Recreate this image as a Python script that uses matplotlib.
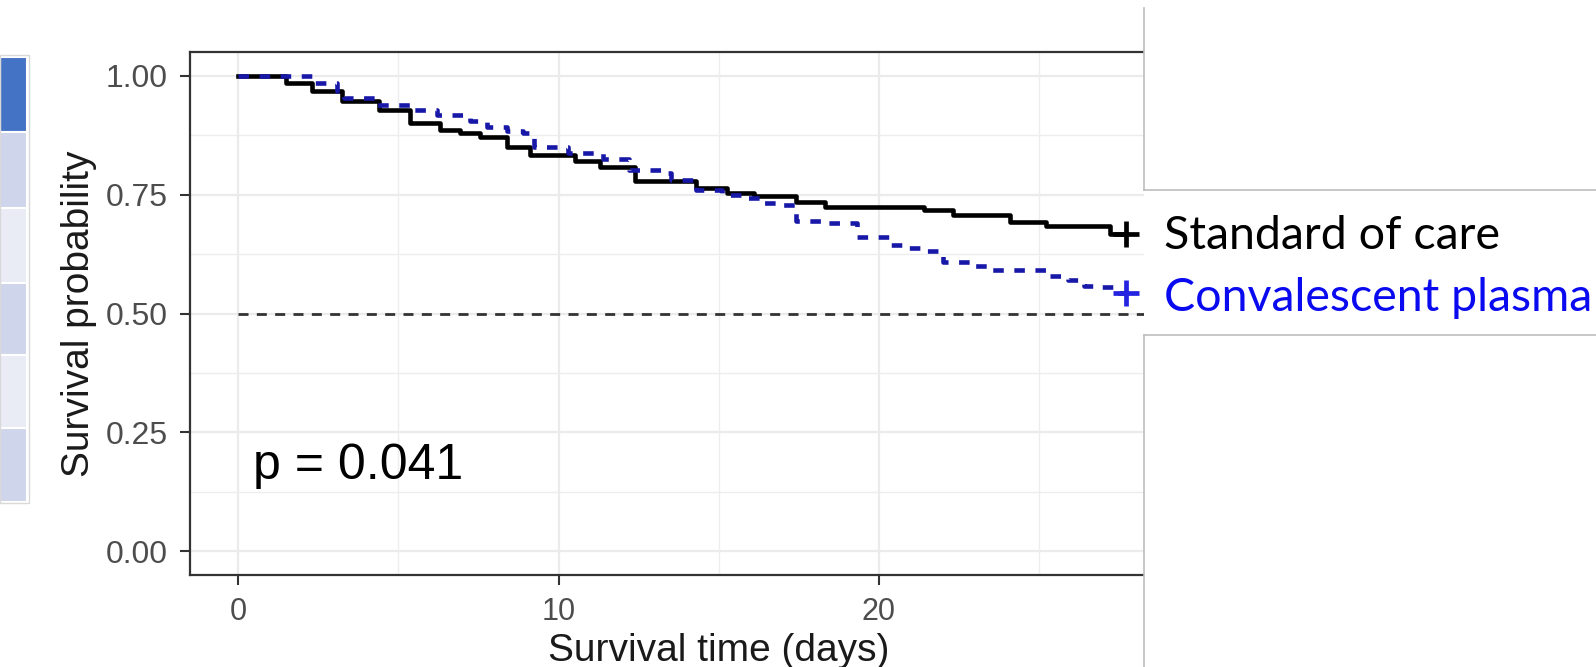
import matplotlib
matplotlib.use("Agg")
import matplotlib.pyplot as plt
from matplotlib.patches import Rectangle
from matplotlib.lines import Line2D

# Kaplan-Meier step values (days, survival after each drop)
soc_times = [0, 1.5, 2.3, 3.24, 4.4, 5.37, 6.3, 6.93, 7.55, 8.38,
             9.1, 10.5, 11.3, 12.4, 14.3, 15.25, 16.1, 17.4, 18.3, 21.4,
             22.3, 24.1, 25.2, 27.2]
soc_surv = [1.0, 0.985, 0.967, 0.946, 0.928, 0.900, 0.886, 0.879, 0.872, 0.851,
            0.834, 0.820, 0.808, 0.779, 0.764, 0.753, 0.747, 0.735, 0.723, 0.717,
            0.707, 0.693, 0.683, 0.668]

cp_times = [0, 2.35, 3.1, 3.3, 4.33, 5.46, 6.2, 7.24, 7.76, 8.38,
            8.9, 9.25, 10.3, 11.4, 12.2, 13.2, 13.5, 14.3, 15.1, 15.8,
            16.3, 16.8, 17.4, 18.2, 19.3, 20.3, 20.9, 21.4, 22.0, 22.9,
            23.4, 25.2, 25.9, 26.4, 26.9, 27.5]
cp_surv = [1.0, 0.985, 0.968, 0.953, 0.939, 0.928, 0.918, 0.904, 0.893, 0.883,
           0.879, 0.850, 0.837, 0.825, 0.802, 0.795, 0.780, 0.760, 0.750, 0.742,
           0.732, 0.728, 0.695, 0.690, 0.660, 0.644, 0.638, 0.632, 0.609, 0.600,
           0.592, 0.578, 0.570, 0.558, 0.555, 0.544]

end_day = 27.7
group_labels = ["Standard of care", "Convalescent plasma"]
p_text = "p = 0.041"
y_ticks = [0.0, 0.25, 0.5, 0.75, 1.0]
y_ticklabels = ["0.00", "0.25", "0.50", "0.75", "1.00"]
x_ticks = [0, 10, 20, 30]

W, H = 1596, 667
plt.rcParams["font.family"] = ["Liberation Sans", "DejaVu Sans"]

fig = plt.figure(figsize=(W / 100, H / 100), dpi=100)
ax = fig.add_axes([190 / W, 1 - 575 / H, 1057.5 / W, 523 / H])


def fx(px):
    return px / W


def fy(py):
    return 1 - py / H


# grid like ggplot theme_bw
for v in [0.125, 0.375, 0.625, 0.875]:
    ax.axhline(v, color="#EDEDED", lw=1.0, zorder=0)
for v in y_ticks:
    ax.axhline(v, color="#EBEBEB", lw=1.6, zorder=0)
for v in [5, 15, 25]:
    ax.axvline(v, color="#EDEDED", lw=1.0, zorder=0)
for v in x_ticks:
    ax.axvline(v, color="#EBEBEB", lw=1.6, zorder=0)

# median reference line
ax.plot([0, 31.5], [0.5, 0.5], color="#333333", lw=2.0, dashes=(3.6, 3.0), zorder=1)

ax.step(soc_times + [end_day], soc_surv + [soc_surv[-1]], where="post",
        color="black", lw=3.3, zorder=3)
ax.step(cp_times + [end_day], cp_surv + [cp_surv[-1]], where="post",
        color="#1818A8", lw=3.3, dashes=(2.3, 2.3), zorder=3)
ax.plot([end_day], [soc_surv[-1]], marker="+", ms=19, mew=3.4, color="black", zorder=4)
ax.plot([end_day], [cp_surv[-1]], marker="+", ms=19, mew=3.4, color="#2424E0", zorder=4)

ax.text(0.47, 0.152, p_text, fontsize=36, color="black", va="baseline", ha="left")

ax.set_xlim(-1.5, 31.5)
ax.set_ylim(-0.05, 1.05)
ax.set_xticks(x_ticks)
ax.set_yticks(y_ticks)
ax.set_yticklabels(y_ticklabels)
ax.tick_params(axis="both", length=7, width=1.5, color="#333333",
               labelcolor="#4D4D4D")
ax.tick_params(axis="y", pad=9, labelsize=23)
ax.tick_params(axis="x", pad=9, labelsize=22)
for s in ax.spines.values():
    s.set_color("#333333")
    s.set_linewidth(1.6)

ax.set_xlabel("Survival time (days)", fontsize=28, color="#1A1A1A", labelpad=4)
ax.set_ylabel("Survival probability", fontsize=28, color="#1A1A1A", labelpad=6)

# white slide panel covering the right part of the plot
fig.add_artist(Rectangle((fx(1144), 0), 1 - fx(1144), 1, transform=fig.transFigure,
                         facecolor="white", edgecolor="none", zorder=10))
border = "#BDBDBD"
fig.add_artist(Line2D([fx(1144), fx(1144)], [fy(8), fy(190)], transform=fig.transFigure,
                      color=border, lw=1.2, zorder=11))
fig.add_artist(Line2D([fx(1144), 1], [fy(190), fy(190)], transform=fig.transFigure,
                      color=border, lw=1.2, zorder=11))
fig.add_artist(Line2D([fx(1144), 1], [fy(335), fy(335)], transform=fig.transFigure,
                      color=border, lw=1.2, zorder=11))
fig.add_artist(Line2D([fx(1144), fx(1144)], [fy(335), 0], transform=fig.transFigure,
                      color=border, lw=1.2, zorder=11))

fig.text(fx(1164), fy(249), group_labels[0], fontsize=33.5, color="black",
         family=["Lato", "DejaVu Sans"], va="baseline", zorder=12)
fig.text(fx(1164), fy(311), group_labels[1], fontsize=33.5, color="#0A0AF0",
         family=["Lato", "DejaVu Sans"], va="baseline", zorder=12)

# fragment of a table at the left edge
row_edges = [57, 132, 208, 283, 355, 428, 502]
row_colors = ["#4472C4", "#CFD5EA", "#E9EBF5", "#CFD5EA", "#E9EBF5", "#CFD5EA"]
for i, c in enumerate(row_colors):
    top, bot = row_edges[i], row_edges[i + 1]
    fig.add_artist(Rectangle((0, fy(bot)), fx(27), fy(top) - fy(bot),
                             transform=fig.transFigure, facecolor=c,
                             edgecolor="white", lw=1.5, zorder=2))
fig.add_artist(Rectangle((0, fy(row_edges[-1] + 1)), fx(29), fy(row_edges[0] - 2) - fy(row_edges[-1] + 1),
                         transform=fig.transFigure, facecolor="none",
                         edgecolor="#D9D9D9", lw=1.0, zorder=3))

plt.savefig("out.png", dpi=100)
